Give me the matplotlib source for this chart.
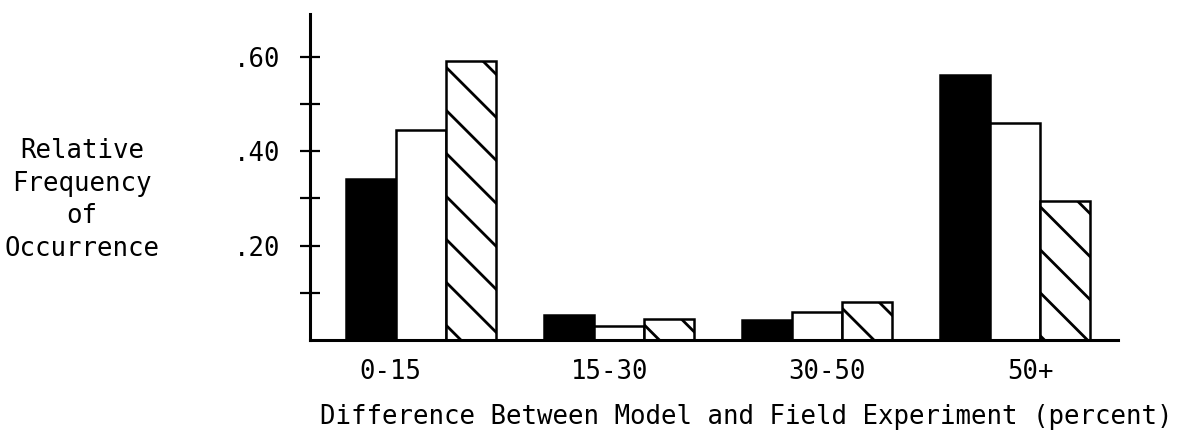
import numpy as np
import matplotlib
matplotlib.use('Agg')
import matplotlib.pyplot as plt

categories = ['0-15', '15-30', '30-50', '50+']
solid = [0.34, 0.053, 0.042, 0.56]
blank = [0.445, 0.03, 0.06, 0.46]
striped = [0.59, 0.045, 0.08, 0.295]
ytick_vals = [0.2, 0.4, 0.6]
ytick_labels = ['.20', '.40', '.60']
yminor_vals = [0.1, 0.3, 0.5]

# labels under the groups are not quite centred in the original
label_shift = [-0.157, -0.045, 0.05, 0.076]

plt.rcParams['font.family'] = ['DejaVu Sans Mono']
fs = 18.5

fig = plt.figure(figsize=(11.86, 4.3), dpi=100)
ax = fig.add_axes([310/1186, 90/430, 808/1186, 326/430])

x = np.arange(len(categories))
w = 0.253
ax.bar(x - w, solid, w, color='black', edgecolor='black', linewidth=1.8)
ax.bar(x, blank, w, color='white', edgecolor='black', linewidth=1.8)
hb = ax.bar(x + w, striped, w, color='white', edgecolor='black', linewidth=1.8)
ax.set_xlim(-0.561, 3.52)
ax.set_ylim(0, 0.69)

# wide diagonal hatching, drawn by hand (built-in hatch is too dense)
step = 43
inv = ax.transData.inverted()
for rect in hb:
    (px0, py0), (px1, py1) = ax.transData.transform(
        [(rect.get_x(), 0), (rect.get_x() + rect.get_width(), rect.get_height())])
    c0 = px0 + py1 - 6
    k_lo = int(np.floor((px0 + py0 - c0) / step))
    k_hi = int(np.ceil((px1 + py1 - c0) / step))
    for k in range(k_lo, k_hi + 1):
        c = c0 + k * step
        xs = np.array([px0 - 10, px1 + 10])
        ys = c - xs
        pts = inv.transform(np.column_stack([xs, ys]))
        ln, = ax.plot(pts[:, 0], pts[:, 1], color='black', lw=2.0, solid_capstyle='butt')
        ln.set_clip_path(rect)

for s in ['top', 'right']:
    ax.spines[s].set_visible(False)
for s in ['left', 'bottom']:
    ax.spines[s].set_linewidth(2.2)

ax.set_yticks(ytick_vals)
ax.set_yticklabels(ytick_labels)
ax.set_yticks(yminor_vals, minor=True)
ax.tick_params(axis='y', which='both', direction='inout', length=14, width=1.6,
               pad=14, labelsize=fs)
ax.set_xticks(x + np.array(label_shift))
ax.set_xticklabels(categories)
ax.tick_params(axis='x', length=0, pad=14, labelsize=fs)

fig.text(82/1186, 1 - 200/430, 'Relative\nFrequency\nof\nOccurrence',
         ha='center', va='center', multialignment='center', linespacing=1.34, fontsize=fs)
fig.text(746/1186, 13/430, 'Difference Between Model and Field Experiment (percent)',
         ha='center', va='center', fontsize=fs)

fig.savefig('out.png', dpi=100, facecolor='white')
